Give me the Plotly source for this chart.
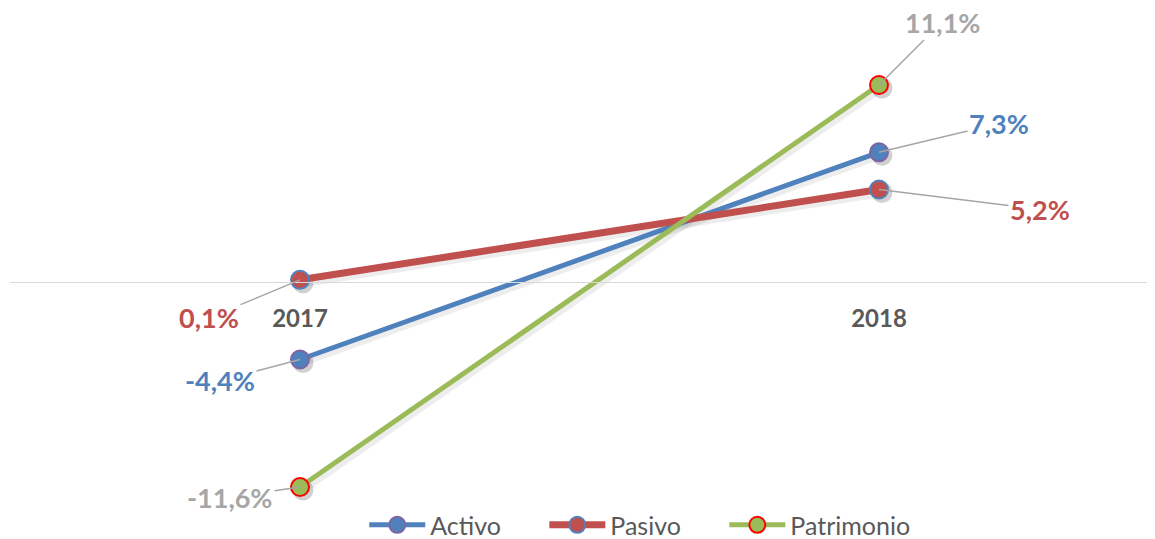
import plotly.graph_objects as go

years = ["2017", "2018"]
activo = [-4.4, 7.3]
pasivo = [0.1, 5.2]
patrimonio = [-11.6, 11.1]

series = [
    # name, values, line colour, marker outline, line width, label colour, label offsets
    ("Activo", activo, "#4F81BD", "#8064A2", 5, "#4F81BD", [(-80, 21), (120, -29)]),
    ("Pasivo", pasivo, "#C0504D", "#4F81BD", 7, "#C0504D", [(-91, 38), (161, 20)]),
    ("Patrimonio", patrimonio, "#9BBB59", "#FF0000", 5, "#A6A6A6", [(-70, 10), (63, -63)]),
]

FONT = "Lato, 'Open Sans', sans-serif"
xpos = list(range(len(years)))

# the page body adds an 8px margin, so the figure is drawn 8px smaller
W, H = 1147, 531
PLOT_BOTTOM = 502
ZERO_Y = 273.6
PX_PER_UNIT = 17.71

fig = go.Figure()

# soft shadows under lines and markers (a few px down/right)
px_x = 1 / 579.0
px_y = 1 / PX_PER_UNIT
for name, vals, color, outline, lw, lc, offs in series:
    fig.add_trace(
        go.Scatter(
            x=[i + 3 * px_x for i in xpos],
            y=[v - 3 * px_y for v in vals],
            mode="lines+markers",
            line=dict(color="rgba(0,0,0,0.07)", width=lw + 2),
            marker=dict(size=21, color="rgba(0,0,0,0.18)"),
            showlegend=False,
            hoverinfo="skip",
        )
    )

for k, (name, vals, color, outline, lw, lc, offs) in enumerate(series):
    # trailing no-break spaces widen the gap between legend entries
    pad = "\u00a0" * 6 if k < len(series) - 1 else ""
    fig.add_trace(
        go.Scatter(
            x=xpos,
            y=vals,
            mode="lines+markers",
            name=name + pad,
            line=dict(color=color, width=lw),
            marker=dict(size=18, color=color, line=dict(color=outline, width=2)),
        )
    )
    for xi, v, (ax, ay) in zip(xpos, vals, offs):
        fig.add_annotation(
            x=xi,
            y=v,
            text=f"{v:.1f}%".replace(".", ","),
            showarrow=True,
            arrowhead=0,
            arrowwidth=1.5,
            arrowcolor="#A6A6A6",
            ax=ax,
            ay=ay,
            standoff=0,
            font=dict(family=FONT, size=27, color=lc, weight="bold"),
        )

fig.update_layout(
    width=W,
    height=H,
    margin=dict(l=2, r=0, t=0, b=H - PLOT_BOTTOM, autoexpand=False),
    paper_bgcolor="white",
    plot_bgcolor="white",
    font=dict(family=FONT, color="#595959"),
    xaxis=dict(
        range=[-0.5009, 1.4767],
        tickvals=xpos,
        ticktext=years,
        anchor="free",
        position=(PLOT_BOTTOM - ZERO_Y) / PLOT_BOTTOM,
        automargin=False,
        showline=True,
        linecolor="#D9D9D9",
        linewidth=1,
        showgrid=False,
        zeroline=False,
        ticks="outside",
        ticklen=16,
        tickcolor="rgba(0,0,0,0)",
        tickfont=dict(family=FONT, size=24, color="#595959", weight="bold"),
    ),
    yaxis=dict(
        range=[-(PLOT_BOTTOM - ZERO_Y) / PX_PER_UNIT, ZERO_Y / PX_PER_UNIT],
        visible=False,
    ),
    legend=dict(
        orientation="h",
        x=0.55,
        xanchor="center",
        y=-0.03,
        yanchor="middle",
        font=dict(family=FONT, size=25, color="#595959"),
        itemwidth=56,
    ),
    showlegend=True,
)

fig.write_html("out.html")
